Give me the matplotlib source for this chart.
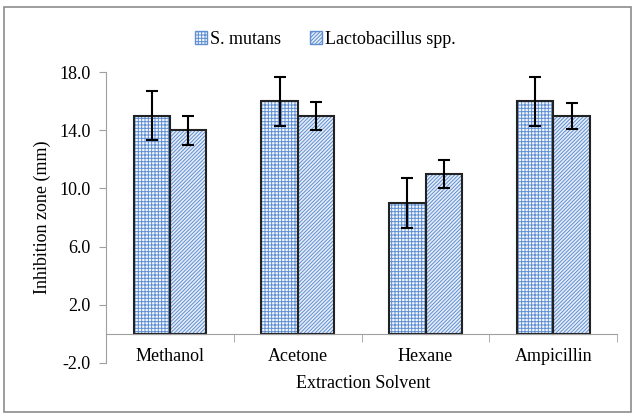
import numpy as np
import matplotlib.pyplot as plt
from matplotlib.patches import Rectangle, Patch

plt.rcParams['font.family'] = ['Liberation Serif', 'DejaVu Serif']
plt.rcParams['hatch.linewidth'] = 0.7

solvents = ['Methanol', 'Acetone', 'Hexane', 'Ampicillin']
s_mutans = [15.0, 16.0, 9.0, 16.0]
s_mutans_err = [1.7, 1.7, 1.7, 1.7]
lacto = [14.0, 15.0, 11.0, 15.0]
lacto_err = [1.0, 0.95, 0.95, 0.9]
yticks = [-2.0, 2.0, 6.0, 10.0, 14.0, 18.0]

blue = '#5f8fd2'
grid_hatch = '+' * 5
diag_hatch = '/' * 9
fig = plt.figure(figsize=(6.35, 4.17), dpi=100)
ax = fig.add_axes([0.167, 0.1295, 0.805, 0.6975])

x = np.arange(len(solvents))
w = 0.285

# hatched fill first, then black outline on top
ax.bar(x - w / 2, s_mutans, w, color='#f4f7fc', edgecolor=blue, hatch=grid_hatch, linewidth=0)
ax.bar(x + w / 2, lacto, w, color='#e6edf8', edgecolor=blue, hatch=diag_hatch, linewidth=0)
ax.bar(x - w / 2, s_mutans, w, fill=False, edgecolor='#222222', linewidth=1.5)
ax.bar(x + w / 2, lacto, w, fill=False, edgecolor='#222222', linewidth=1.5)

ax.errorbar(x - w / 2, s_mutans, yerr=s_mutans_err, fmt='none', ecolor='black',
            elinewidth=1.5, capsize=4, capthick=1.5)
ax.errorbar(x + w / 2, lacto, yerr=lacto_err, fmt='none', ecolor='black',
            elinewidth=1.5, capsize=4, capthick=1.5)

ax.set_xlim(-0.5, len(solvents) - 0.5)
ax.set_ylim(-2, 18)
ax.set_yticks(yticks)
ax.set_yticklabels(['%.1f' % v for v in yticks])

ax.set_xticks(x)
ax.set_xticklabels(solvents)
ax.tick_params(axis='x', which='major', length=0, pad=10, labelsize=13)
ax.set_xticks(np.arange(len(solvents)) + 0.5, minor=True)
ax.tick_params(axis='x', which='minor', length=6, color='#a0a0a0', direction='out')
ax.tick_params(axis='y', length=5, color='#a0a0a0', pad=6, labelsize=13)

for s in ['top', 'right']:
    ax.spines[s].set_visible(False)
ax.spines['bottom'].set_position(('data', 0))
ax.spines['bottom'].set_color('#a0a0a0')
ax.spines['left'].set_color('#a0a0a0')

ax.set_ylabel('Inhibition zone (mm)', fontsize=13, labelpad=6)
fig.text(0.572, 0.08, 'Extraction Solvent', ha='center', va='center', fontsize=13)

handles = [Patch(facecolor='#f4f7fc', edgecolor=blue, hatch=grid_hatch),
           Patch(facecolor='#e6edf8', edgecolor=blue, hatch=diag_hatch)]
fig.legend(handles, ['S. mutans', 'Lactobacillus spp.'], loc='center',
           bbox_to_anchor=(0.512, 0.905), ncol=2, frameon=False, fontsize=13,
           handlelength=0.7, handleheight=0.7, handletextpad=0.15, columnspacing=1.6)

fig.patches.append(Rectangle((4 / 635, 5 / 417), 627 / 635, 405 / 417, transform=fig.transFigure,
                             fill=False, edgecolor='#8c8c8c', linewidth=1.2))

fig.savefig('out.png', dpi=100)
